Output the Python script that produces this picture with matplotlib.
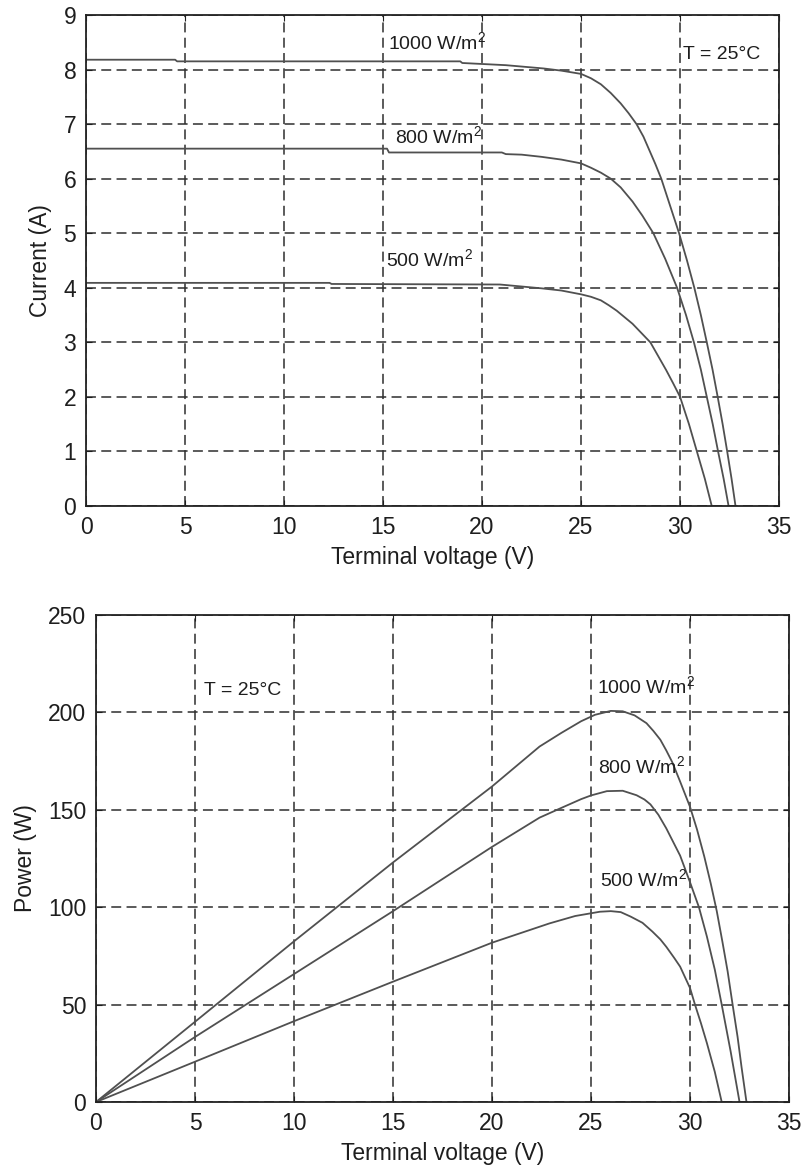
import matplotlib
matplotlib.use("Agg")
import matplotlib.pyplot as plt

plt.rcParams["font.family"] = ["Liberation Sans", "DejaVu Sans"]
plt.rcParams["mathtext.fontset"] = "custom"
plt.rcParams["mathtext.rm"] = "Liberation Sans"
plt.rcParams["mathtext.it"] = "Liberation Sans"

# I-V curves, T = 25 C
iv_v_1000 = [0, 4.5, 4.6, 18.9, 19.0, 21.2, 23.1, 24.0, 25.0, 25.5, 26.0, 26.5,
             27.0, 27.4, 27.8, 28.15, 28.45, 28.75, 29.05, 29.5, 29.95, 30.35,
             30.72, 31.05, 31.35, 31.64, 31.9, 32.15, 32.38, 32.6, 32.8]
iv_i_1000 = [8.18, 8.18, 8.15, 8.15, 8.12, 8.08, 8.02, 7.98, 7.92, 7.84, 7.73, 7.57,
             7.38, 7.2, 7.0, 6.77, 6.52, 6.27, 6.0, 5.5, 5.0, 4.5,
             4.0, 3.5, 3.0, 2.5, 2.0, 1.5, 1.0, 0.5, 0.0]

iv_v_800 = [0, 15.2, 15.3, 21.0, 21.2, 22.0, 23.0, 24.0, 25.0, 25.5, 26.0, 26.5,
            27.0, 27.6, 28.1, 28.65, 29.25, 29.85, 30.3, 30.7, 31.05, 31.35,
            31.65, 31.92, 32.2, 32.45]
iv_i_800 = [6.55, 6.55, 6.48, 6.48, 6.45, 6.44, 6.40, 6.35, 6.28, 6.20, 6.11, 6.0,
            5.84, 5.58, 5.32, 5.0, 4.53, 4.0, 3.5, 3.0, 2.5, 2.0,
            1.5, 1.0, 0.5, 0.0]

iv_v_500 = [0, 12.3, 12.4, 20.9, 23.0, 24.0, 25.0, 25.5, 26.0, 26.4, 26.8, 27.6,
            28.5, 29.3, 29.65, 30.0, 30.45, 30.85, 31.25, 31.6]
iv_i_500 = [4.09, 4.09, 4.07, 4.06, 3.99, 3.95, 3.88, 3.835, 3.77, 3.68, 3.58, 3.34,
            3.0, 2.49, 2.25, 2.0, 1.5, 1.0, 0.5, 0.0]

# P-V curves, T = 25 C
pv_v_1000 = [0, 5, 10, 15, 20, 22.4, 23.5, 24.5, 25.2, 26.0, 26.6, 27.2, 27.8,
             28.15, 28.5, 28.8, 29.1, 29.5, 30.0, 30.35, 30.72, 31.05, 31.35,
             31.64, 31.9, 32.15, 32.4, 32.6, 32.85]
pv_p_1000 = [0, 41.2, 82.5, 123, 162, 182.5, 189.5, 195.5, 198.8, 200.8, 200.6,
             198.5, 194.5, 190.5, 186, 180.5, 174.5, 164.5, 151.5, 140, 126, 112,
             98, 82, 67, 50, 33.5, 18, 0]

pv_v_800 = [0, 5, 10, 15, 20, 22.4, 23.5, 24.5, 25.0, 25.8, 26.6, 27.3, 27.7,
            28.0, 28.4, 28.8, 29.15, 29.5, 30.0, 30.45, 30.85, 31.25, 31.6,
            32.05, 32.5]
pv_p_800 = [0, 33.4, 65.7, 98, 131, 146, 151, 155.5, 157.4, 159.6, 159.8, 157.5,
            155.3, 152.8, 147.5, 140.5, 133.5, 126.5, 112.8, 100, 85, 68, 50,
            26, 0]

pv_v_500 = [0, 5, 10, 15, 20, 22.9, 24.2, 25.45, 26.0, 26.5, 27.0, 27.6, 28.1,
            28.5, 28.8, 29.2, 29.5, 30.0, 30.25, 30.55, 30.85, 31.25, 31.6]
pv_p_500 = [0, 20.7, 41.5, 61.8, 81.8, 91.7, 95.5, 97.7, 98.0, 97.5, 95.2, 92.0,
            87.5, 83.5, 79.7, 74, 69.5, 58.5, 50, 40.5, 30.3, 15.5, 0]

line_color = "#505050"
grid_color = "#2e2e2e"
text_color = "#1e1e1e"

fig = plt.figure(figsize=(8.04, 11.7), dpi=100)
ax1 = fig.add_axes([0.107, 0.5675, 0.862, 0.4197])
ax2 = fig.add_axes([0.1194, 0.0581, 0.862, 0.4162])


def style_axes(ax, ymax, ystep, ylabel):
    ax.set_xlim(0, 35)
    ax.set_ylim(0, ymax)
    ax.set_xticks(range(0, 36, 5))
    ax.set_yticks(range(0, ymax + 1, ystep))
    ax.grid(True, color=grid_color, linestyle=(0, (6.5, 3.5)), linewidth=1.1)
    ax.tick_params(direction="in", top=True, right=True, length=4,
                   labelsize=16.5, colors=text_color, pad=7)
    for sp in ax.spines.values():
        sp.set_color("#222222")
        sp.set_linewidth(1.3)
    ax.set_xlabel("Terminal voltage (V)", fontsize=16.5, color=text_color, labelpad=5)
    ax.set_ylabel(ylabel, fontsize=16.5, color=text_color, labelpad=8)


for v, i in [(iv_v_1000, iv_i_1000), (iv_v_800, iv_i_800), (iv_v_500, iv_i_500)]:
    ax1.plot(v, i, color=line_color, linewidth=1.3)
style_axes(ax1, 9, 1, "Current (A)")

ann = dict(fontsize=14, color=text_color, va="baseline", ha="left")
ax1.text(15.25, 8.38, "1000 W/m$^2$", **ann)
ax1.text(15.6, 6.65, "800 W/m$^2$", **ann)
ax1.text(15.15, 4.40, "500 W/m$^2$", **ann)
ax1.text(30.15, 8.2, "T = 25°C", **ann)

for v, p in [(pv_v_1000, pv_p_1000), (pv_v_800, pv_p_800), (pv_v_500, pv_p_500)]:
    ax2.plot(v, p, color=line_color, linewidth=1.3)
style_axes(ax2, 250, 50, "Power (W)")

ax2.text(5.45, 209, "T = 25°C", **ann)
ax2.text(25.3, 210, "1000 W/m$^2$", **ann)
ax2.text(25.35, 168.8, "800 W/m$^2$", **ann)
ax2.text(25.45, 110.6, "500 W/m$^2$", **ann)

fig.savefig("out.png", dpi=100)
